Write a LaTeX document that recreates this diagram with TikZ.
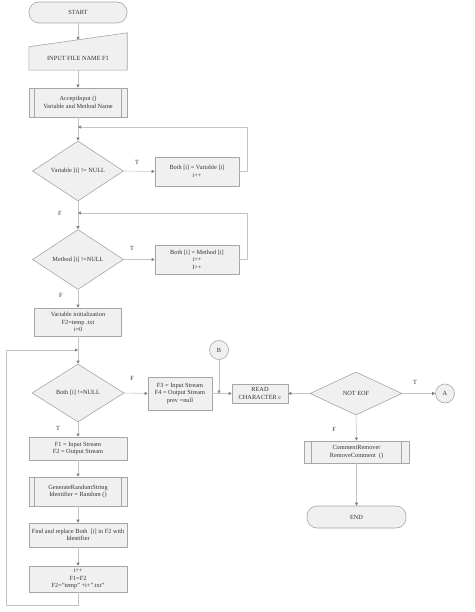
\documentclass[tikz,border=0pt]{standalone}
\usepackage{fontspec}
\setmainfont{Liberation Serif}
\usetikzlibrary{shapes.geometric,arrows.meta,calc}
\definecolor{bordc}{HTML}{A6A6A6}
\definecolor{fillc}{HTML}{F0F0F0}
\definecolor{linec}{HTML}{C4C4C4}
\definecolor{arrc}{HTML}{7F7F7F}
\definecolor{txtc}{HTML}{333333}
\begin{document}
\begin{tikzpicture}[x=1pt,y=-1pt,
  every node/.style={font=\fontsize{6.3}{7.5}\selectfont, text=txtc, inner sep=0pt, align=center},
  box/.style={draw=bordc, fill=fillc, line width=0.6pt, rectangle},
  term/.style={box, rounded corners=10pt},
  dec/.style={draw=bordc, fill=fillc, line width=0.6pt, diamond, aspect=1.5},
  conn/.style={draw=bordc, fill=fillc, line width=0.6pt, circle, minimum size=19pt},
  bar/.style={draw=bordc, line width=0.6pt},
  link/.style={draw=linec, line width=0.6pt},
  arr/.style={link, -{Triangle[length=3pt,width=3pt,color=arrc]}},
  lbl/.style={text=txtc},
]
\useasboundingbox (0,0) rectangle (474,612);

% ---- left column ----
\node[term, minimum width=98pt, minimum height=21pt] (start) at (78,12.5) {START};

\node[minimum width=98pt, minimum height=37pt] (inp) at (78,51.5) {};
\draw[box] (inp.south west) -- ($(inp.north west)+(0,14)$) -- (inp.north east) -- (inp.south east) -- cycle;
\node (inptext) at (78,58) {INPUT FILE NAME F1};
\coordinate (inin) at (78,40);

\node[box, minimum width=98pt, minimum height=29pt] (acc) at (78,102.5) {AcceptInput ()\\Variable and Method Name};
\draw[bar] ($(acc.north west)+(6,0)$) -- ($(acc.south west)+(6,0)$);
\draw[bar] ($(acc.north east)+(-6,0)$) -- ($(acc.south east)+(-6,0)$);

\coordinate (j1) at (78,127);
\node[dec, minimum width=91pt, minimum height=60pt] (d1) at (78,171) {Variable [i] != NULL};
\node[box, minimum width=84pt, minimum height=29pt] (b1) at (197,171.5) {Both [i] = Variable [i]\\i++};
\coordinate (r1) at (247,171.5);
\node[lbl] (t1) at (137,162) {T};
\node[lbl] (f1) at (60,213) {F};

\coordinate (j2) at (78,213);
\node[dec, minimum width=91pt, minimum height=60pt] (d2) at (78,259.5) {Method [i] !=NULL};
\node[box, minimum width=84pt, minimum height=29pt] (b2) at (197,259.5) {Both [i] = Method [i]\\i++\\I++};
\coordinate (r2) at (247,259.5);
\node[lbl] (t2) at (132,248) {T};
\node[lbl] (f2) at (61,295) {F};

\node[box, minimum width=87pt, minimum height=28pt] (b3) at (78,322) {Variable initialization\\F2=temp .txt\\i=0};

\coordinate (j3) at (78,350);
\coordinate (j3l) at (6,350);
\node[dec, minimum width=92pt, minimum height=58pt] (d3) at (78,393) {Both [i] !=NULL};
\node[lbl] (f3) at (132,378) {F};
\node[lbl] (t3) at (58,428) {T};
\node[box, minimum width=64pt, minimum height=33pt] (b4) at (180,393.5) {F3 = Input Stream\\F4 = Output Stream\\prev =null};

\node[box, minimum width=98pt, minimum height=23pt] (b5) at (78,448.5) {F1 = Input Stream\\F2 = Output Stream};
\node[box, minimum width=98pt, minimum height=29pt] (gen) at (78,491.5) {GenerateRandomString\\Identifier = Random ()};
\draw[bar] ($(gen.north west)+(6,0)$) -- ($(gen.south west)+(6,0)$);
\draw[bar] ($(gen.north east)+(-6,0)$) -- ($(gen.south east)+(-6,0)$);
\node[box, minimum width=98pt, minimum height=24pt] (find) at (78,535) {Find and replace Both\enspace [i] in F2 with\\Identifier};
\node[box, minimum width=98pt, minimum height=26pt] (last) at (78,579) {i++\\F1=F2\\F2="temp" +i+".txt"};
\coordinate (lb) at (78,605);

% ---- right part ----
\node[conn] (B) at (219,350) {B};
\coordinate (jb) at (219,393.5);
\node[box, minimum width=56pt, minimum height=19pt] (read) at (260,393.5) {READ\\CHARACTER c};
\node[dec, minimum width=92pt, minimum height=43pt] (eof) at (356,393.5) {NOT EOF};
\node[lbl] (t4) at (415,382) {T};
\node[conn] (A) at (445,393.5) {A};
\node[lbl] (f4) at (334,429) {F};
\node[box, minimum width=105pt, minimum height=22pt] (cr) at (356.5,452) {CommentRemover\\RemoveComment\enspace ()};
\draw[bar] ($(cr.north west)+(8,0)$) -- ($(cr.south west)+(8,0)$);
\draw[bar] ($(cr.north east)+(-8,0)$) -- ($(cr.south east)+(-8,0)$);
\node[term, minimum width=99pt, minimum height=22pt] (end) at (356.5,517) {END};

% ---- connectors ----
\draw[arr] (start) -- (inin);
\draw[arr] (inp.south) -- (acc.north);
\draw[arr] (acc.south) -- (d1.north);
\draw[arr] (d1.east) -- (b1.west);
\draw[arr] (b1.east) -- (r1) |- (j1);
\draw[arr] (d1.south) -- (d2.north);
\draw[arr] (d2.east) -- (b2.west);
\draw[arr] (b2.east) -- (r2) |- (j2);
\draw[arr] (d2.south) -- (b3.north);
\draw[arr] (b3.south) -- (d3.north);
\draw[arr] (d3.east) -- (b4.west);
\draw[arr] (d3.south) -- (b5.north);
\draw[arr] (b5.south) -- (gen.north);
\draw[arr] (gen.south) -- (find.north);
\draw[arr] (find.south) -- (last.north);
\draw[arr] (last.south) -- (lb) -| (j3l) -- (j3);
\draw[arr] (B.south) -- (jb);
\draw[arr] (b4.east) -- (read.west);
\draw[arr] (eof.west) -- (read.east);
\draw[arr] (eof.east) -- (A.west);
\draw[arr] (eof.south) -- (cr.north);
\draw[arr] (cr.south) -- (end.north);
\end{tikzpicture}
\end{document}
